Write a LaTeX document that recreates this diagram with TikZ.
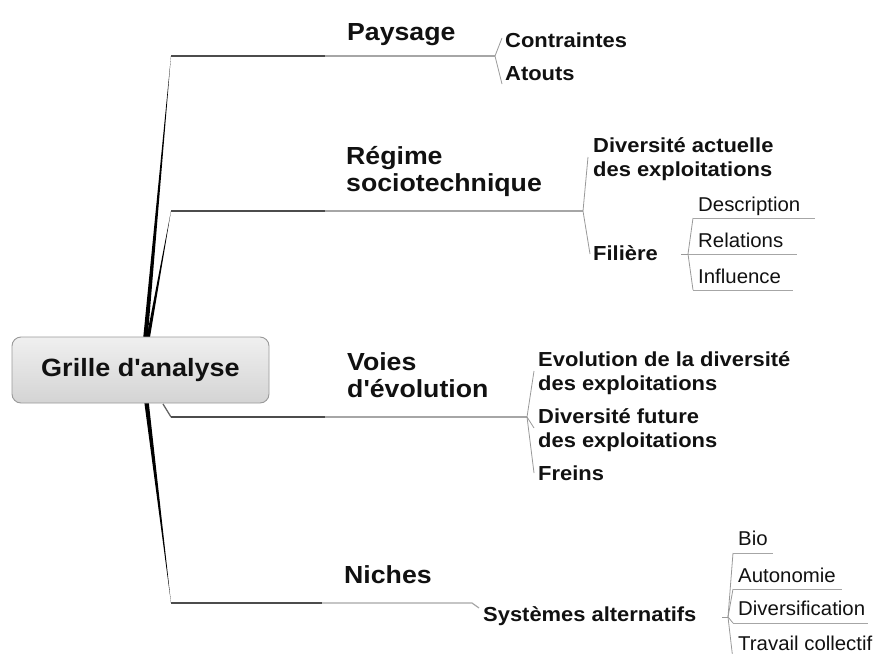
\documentclass[tikz,border=0pt]{standalone}
\usepackage{fontspec}
\setmainfont{Liberation Sans}
\newfontfamily\lvA[FakeStretch=1.08]{Liberation Sans}
\newfontfamily\lvB[FakeStretch=1.08]{Liberation Sans}
\newfontfamily\lvC[FakeStretch=1.02]{Liberation Sans}
\definecolor{txt}{HTML}{111111}
\begin{document}
\begin{tikzpicture}[x=1pt,y=-1pt,
  rootbox/.style={draw=black!40, line width=0.9pt, rounded corners=9pt, top color=black!6, bottom color=black!17,
    minimum width=257pt, minimum height=66pt, inner sep=0pt, text=txt, font=\lvA\bfseries\fontsize{25}{28}\selectfont},
  mainlbl/.style={anchor=base west, inner sep=0pt, align=left, text=txt, font=\lvA\bfseries\fontsize{24.7}{27}\selectfont},
  sublbl/.style={anchor=base west, inner sep=0pt, align=left, text=txt, font=\lvB\bfseries\fontsize{20.3}{24}\selectfont},
  leaflbl/.style={anchor=base west, inner sep=0pt, text=txt, font=\lvC\fontsize{20}{22}\selectfont},
  trunk/.style={fill=black},
  darkline/.style={draw=black!70, line width=1.6pt},
  lightline/.style={draw=black!35, line width=1.2pt},
  forkline/.style={draw=black!40, line width=0.8pt},
  uline/.style={draw=black!35, line width=0.9pt}]
\useasboundingbox (0,0) rectangle (875,653);

% ---------- trunks (under the root box) ----------
\coordinate (rP1) at (143,340); \coordinate (rP2) at (147.5,340);
\coordinate (rR1) at (146,340); \coordinate (rR2) at (149.5,340);
\coordinate (rN1) at (144,400); \coordinate (rN2) at (148.5,400);
\coordinate (jP) at (171,56); \coordinate (jR) at (171,211); \coordinate (jN) at (171,603);
\fill[trunk] (rP1) -- (jP) -- (rP2) -- cycle;
\fill[trunk] (rR1) -- (jR) -- (rR2) -- cycle;
\fill[trunk] (rN1) -- (jN) -- (rN2) -- cycle;

% root
\node[rootbox] (root) at (140.5,370) {Grille d'analyse};

% ---------- Paysage ----------
\coordinate (mP) at (325,56); \coordinate (fP) at (495,56);
\draw[darkline] (jP) -- (mP);
\draw[lightline] (mP) -- (fP);
\node[mainlbl] (pay) at (347,40) {Paysage};
\node[sublbl] (con) at (505,47) {Contraintes};
\node[sublbl] (ato) at (505,80) {Atouts};
\coordinate (cP1) at (502,38); \coordinate (cP2) at (502,84);
\draw[forkline] (fP) -- (cP1);
\draw[forkline] (fP) -- (cP2);

% ---------- Regime ----------
\coordinate (mR) at (325,211); \coordinate (fR) at (583,211);
\draw[darkline] (jR) -- (mR);
\draw[lightline] (mR) -- (fR);
\node[mainlbl] (reg) at (346,191) {Régime\\sociotechnique};
\node[sublbl] (div) at (593,176) {Diversité actuelle\\des exploitations};
\node[sublbl] (fil) at (593,260) {Filière};
\coordinate (cR1) at (588,157); \coordinate (cR2) at (590,254);
\draw[forkline] (fR) -- (cR1);
\draw[forkline] (fR) -- (cR2);
% Filiere fork
\coordinate (fF0) at (681,254); \coordinate (fF) at (688,254);
\coordinate (uD0) at (693,218); \coordinate (uD1) at (815,218);
\coordinate (uR1) at (797,254);
\coordinate (uI0) at (693,290); \coordinate (uI1) at (793,290);
\draw[forkline] (fF0) -- (fF);
\draw[forkline] (fF) -- (uD0);
\draw[forkline] (fF) -- (uI0);
\draw[uline] (uD0) -- (uD1);
\draw[uline] (fF) -- (uR1);
\draw[uline] (uI0) -- (uI1);
\node[leaflbl] (des) at (698,211) {Description};
\node[leaflbl] (rel) at (698,247) {Relations};
\node[leaflbl] (inf) at (698,283) {Influence};

% ---------- Voies ----------
\coordinate (rV) at (163,404);
\coordinate (jV) at (171,417); \coordinate (mV) at (325,417); \coordinate (fV) at (527,417);
\draw[draw=black!60, line width=1.3pt] (rV) -- (jV);
\draw[darkline] (jV) -- (mV);
\draw[lightline] (mV) -- (fV);
\node[mainlbl] (voi) at (347,397) {Voies\\d'évolution};
\node[sublbl] (evo) at (538,390) {Evolution de la diversité\\des exploitations};
\node[sublbl] (fut) at (538,447) {Diversité future\\des exploitations};
\node[sublbl] (fre) at (538,480) {Freins};
\coordinate (cV1) at (534,371); \coordinate (cV2) at (534,428); \coordinate (cV3) at (534,473);
\draw[forkline] (fV) -- (cV1);
\draw[forkline] (fV) -- (cV2);
\draw[forkline] (fV) -- (cV3);

% ---------- Niches ----------
\coordinate (mN) at (322,603); \coordinate (kN) at (472,603); \coordinate (eN) at (479,608);
\draw[darkline] (jN) -- (mN);
\draw[lightline] (mN) -- (kN) -- (eN);
\node[mainlbl] (nic) at (344,583) {Niches};
\node[sublbl] (sys) at (483,621) {Systèmes alternatifs};
\coordinate (fS0) at (722,617); \coordinate (fS) at (728,617);
\coordinate (uB0) at (733,553); \coordinate (uB1) at (773,553);
\coordinate (uA0) at (733,589); \coordinate (uA1) at (842,589);
\coordinate (uV0) at (733,623); \coordinate (uV1) at (868,623);
\coordinate (uT0) at (733,660); \coordinate (uT1) at (880,660);
\draw[forkline] (fS0) -- (fS);
\foreach \u in {uB0,uA0,uV0,uT0} \draw[forkline] (fS) -- (\u);
\draw[uline] (uB0) -- (uB1);
\draw[uline] (uA0) -- (uA1);
\draw[uline] (uV0) -- (uV1);
\draw[uline] (uT0) -- (uT1);
\node[leaflbl] (bio) at (738,545) {Bio};
\node[leaflbl] (aut) at (738,582) {Autonomie};
\node[leaflbl] (dvf) at (738,615) {Diversification};
\node[leaflbl] (tra) at (738,650) {Travail collectif};
\end{tikzpicture}
\end{document}
